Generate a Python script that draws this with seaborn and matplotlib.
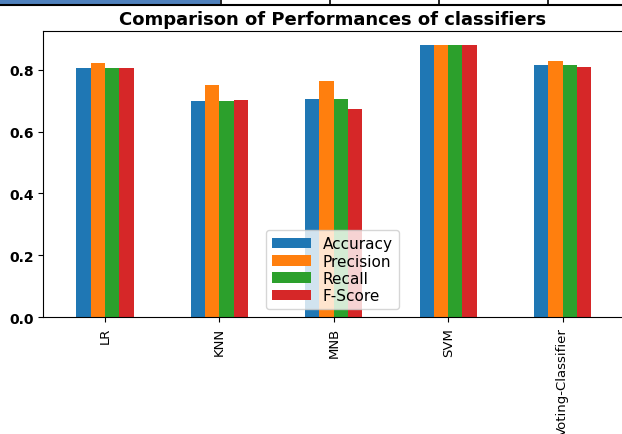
import pandas as pd
import matplotlib
matplotlib.use("Agg")
import matplotlib.pyplot as plt
import seaborn as sns
from matplotlib.patches import Rectangle
from matplotlib.lines import Line2D

# classifier scores
classifiers = ['LR', 'KNN', 'MNB', 'SVM', 'Voting-Classifier']
metrics = ['Accuracy', 'Precision', 'Recall', 'F-Score']
accuracy = [0.806, 0.698, 0.706, 0.882, 0.817]
precision = [0.822, 0.752, 0.765, 0.882, 0.830]
recall = [0.806, 0.698, 0.706, 0.882, 0.817]
fscore = [0.806, 0.702, 0.675, 0.882, 0.811]

df = pd.DataFrame({'Accuracy': accuracy, 'Precision': precision,
                   'Recall': recall, 'F-Score': fscore}, index=classifiers)
long = df.reset_index().melt(id_vars='index', var_name='metric', value_name='score')

fig = plt.figure(figsize=(6.22, 4.35), dpi=100)
ax = fig.add_axes([43.3 / 622, 117 / 435, 1 - 43.3 / 622, 286 / 435])

sns.barplot(data=long, x='index', y='score', hue='metric', hue_order=metrics,
            order=classifiers, palette=sns.color_palette('tab10', 4),
            saturation=1, width=0.5, gap=0, linewidth=0, errorbar=None, ax=ax)

ax.set_xlim(-0.54, 4.52)
ax.set_ylim(0, 0.926)
ax.set_xlabel('')
ax.set_ylabel('')
ax.set_yticks([0.0, 0.2, 0.4, 0.6, 0.8])
ax.set_yticklabels(['0.0', '0.2', '0.4', '0.6', '0.8'], fontsize=10, fontweight='bold')
ax.set_xticks(range(len(classifiers)))
ax.set_xticklabels(classifiers, rotation=90, fontsize=9.5)
ax.spines['right'].set_visible(False)
ax.set_title('Comparison of Performances of classifiers', fontsize=13, fontweight='bold', pad=5)

ax.legend(loc='lower center', fontsize=11, labelspacing=0.15, handlelength=2.5,
          bbox_to_anchor=(0.5, 0.0))

# strip of the page table visible above the chart
fig.add_artist(Rectangle((0, 1 - 5 / 435), 220 / 622, 5 / 435, transform=fig.transFigure,
                         color='#4f81bd', lw=0))
fig.add_artist(Line2D([0, 1], [1 - 5.5 / 435] * 2, transform=fig.transFigure, color='black', lw=1.5))
for x in [221, 330, 439, 548]:
    fig.add_artist(Line2D([x / 622] * 2, [1 - 5.5 / 435, 1], transform=fig.transFigure,
                          color='black', lw=1.2))

fig.savefig('out.png', dpi=100)
